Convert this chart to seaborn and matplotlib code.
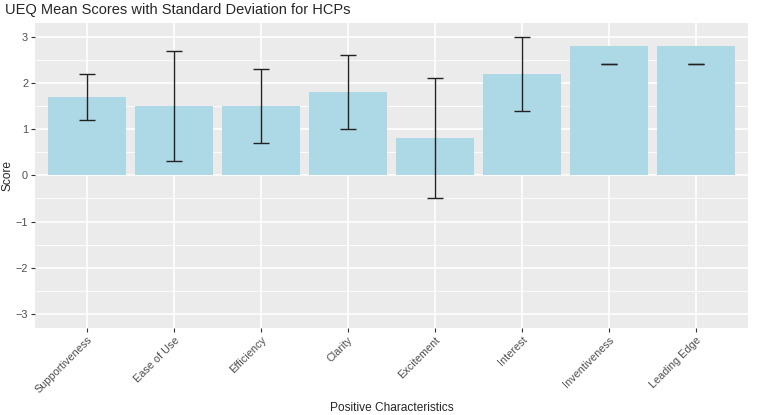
import matplotlib
matplotlib.use("Agg")
import matplotlib.pyplot as plt
import numpy as np
import pandas as pd
import seaborn as sns
from matplotlib.ticker import MultipleLocator

categories = ["Supportiveness", "Ease of Use", "Efficiency", "Clarity",
              "Excitement", "Interest", "Inventiveness", "Leading Edge"]
mean_scores = [1.7, 1.5, 1.5, 1.8, 0.8, 2.2, 2.8, 2.8]
err_low = [1.2, 0.3, 0.7, 1.0, -0.5, 1.4, 2.4, 2.4]
err_high = [2.2, 2.7, 2.3, 2.6, 2.1, 3.0, 2.4, 2.4]

df = pd.DataFrame({"Characteristic": categories, "Score": mean_scores,
                   "low": err_low, "high": err_high})


def plot_scores(data: pd.DataFrame) -> None:
    sns.set_theme(style="darkgrid", rc={
        "axes.facecolor": "#EBEBEB",
        "grid.color": "white",
        "axes.edgecolor": "#EBEBEB",
    })
    plt.rcParams["font.family"] = ["Liberation Sans", "DejaVu Sans"]

    fig = plt.figure(figsize=(7.6, 4.15), dpi=100)
    ax = fig.add_axes([0.046, 0.21, 0.938, 0.735])

    sns.barplot(data=data, x="Characteristic", y="Score", color="#ADD8E6",
                saturation=1, width=0.9, linewidth=0, ax=ax, zorder=2)

    pos = np.arange(len(data))
    half = 0.09
    ax.vlines(pos, data["low"], data["high"], color="#222222", lw=1.0, zorder=3)
    ax.hlines(data["low"], pos - half, pos + half, color="#222222", lw=1.0, zorder=3)
    ax.hlines(data["high"], pos - half, pos + half, color="#222222", lw=1.0, zorder=3)

    ax.set_ylim(-3.3, 3.3)
    ax.set_xlim(-0.6, len(data) - 0.4)
    ax.yaxis.set_major_locator(MultipleLocator(1))
    ax.yaxis.set_minor_locator(MultipleLocator(0.5))
    ax.grid(which="major", color="white", lw=1.2)
    ax.grid(which="minor", axis="y", color="white", lw=0.6)
    ax.set_axisbelow(True)
    for s in ax.spines.values():
        s.set_visible(False)

    ax.tick_params(axis="both", which="major", length=3, width=0.8,
                   color="#333333", labelcolor="#4D4D4D", labelsize=7.8,
                   pad=2, bottom=True, left=True)
    ax.tick_params(axis="y", which="minor", length=0)
    plt.setp(ax.get_xticklabels(), rotation=45, ha="right",
             rotation_mode="anchor")

    ax.set_xlabel("Positive Characteristics", fontsize=8.6)
    ax.set_ylabel("Score", fontsize=8.6)
    ax.xaxis.set_label_coords(0.5, -0.243)
    ax.yaxis.set_label_coords(-0.03, 0.5)
    fig.text(0.007, 0.975, "UEQ Mean Scores with Standard Deviation for HCPs",
             fontsize=10.5, va="center", ha="left")

    fig.savefig("out.png", dpi=100)


if __name__ == "__main__":
    plot_scores(df)
